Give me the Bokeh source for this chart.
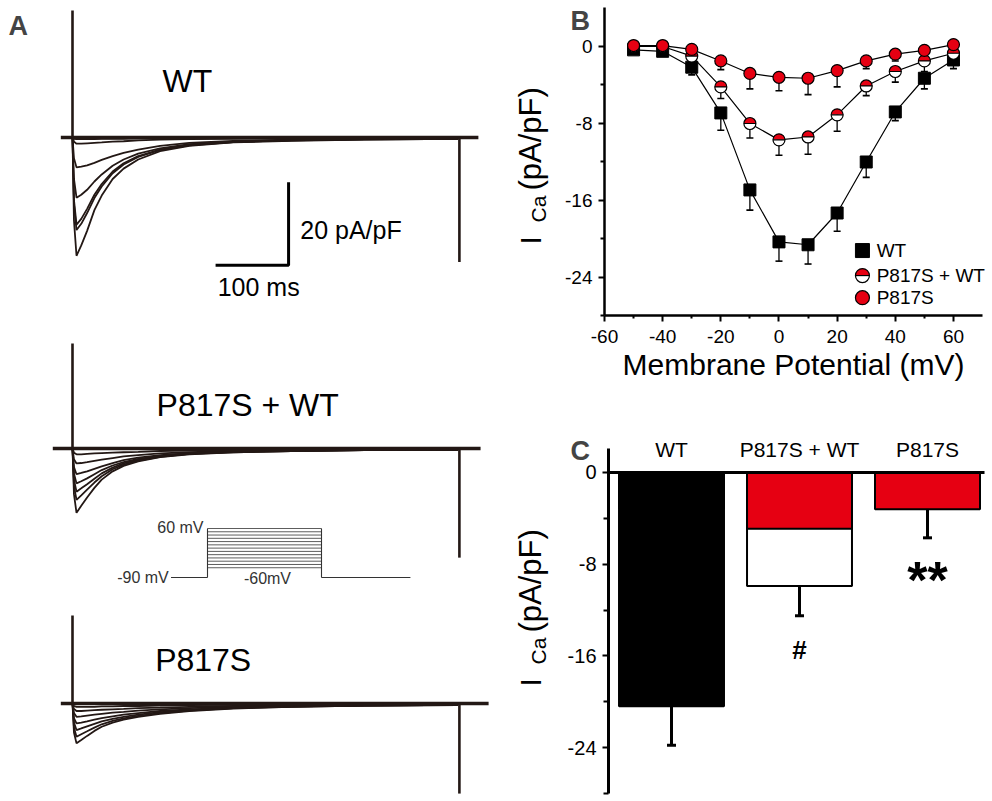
import numpy as np
from bokeh.plotting import figure
from bokeh.models import Range1d, FixedTicker, Label
from bokeh.layouts import row, column
from bokeh.embed import file_html
from bokeh.resources import INLINE
from bokeh.core.properties import value

FONT = "Liberation Sans"
RED = "#e60012"
INK = "#231815"

# ---------------- Panel A: representative current traces (pA/pF vs ms) -------------
trace_t = [0, 2, 5.5, 12, 20, 30, 40, 55, 70, 90, 120, 160, 220, 300, 400, 528]
wt_traces = [
    [0, -20.0, -28.5, -26.0, -22.5, -17.5, -14.0, -10.0, -7.5, -5.3, -3.3, -2.0, -1.2, -0.8, -0.5, -0.3],
    [0, -16.0, -22.3, -20.8, -18.2, -14.6, -11.8, -8.6, -6.5, -4.7, -3.0, -1.9, -1.1, -0.7, -0.5, -0.3],
    [0, -15.0, -21.0, -19.6, -17.2, -13.8, -11.2, -8.2, -6.2, -4.5, -2.9, -1.8, -1.1, -0.7, -0.4, -0.3],
    [0, -10.0, -14.5, -13.8, -12.6, -10.6, -8.9, -6.8, -5.3, -3.9, -2.6, -1.6, -1.0, -0.6, -0.4, -0.3],
    [0, -5.0, -7.2, -7.0, -6.7, -6.1, -5.4, -4.5, -3.7, -2.9, -2.0, -1.3, -0.8, -0.5, -0.3, -0.2],
    [0, -1.0, -1.5, -1.5, -1.4, -1.3, -1.2, -1.0, -0.9, -0.7, -0.5, -0.4, -0.3, -0.2, -0.2, -0.1],
    [0, -0.3, -0.4, -0.4, -0.4, -0.4, -0.3, -0.3, -0.3, -0.2, -0.2, -0.2, -0.1, -0.1, -0.1, -0.1],
]
het_traces = [
    [0, -11.0, -15.5, -13.8, -11.8, -9.5, -7.5, -5.5, -4.2, -3.1, -2.1, -1.4, -0.9, -0.6, -0.4, -0.3],
    [0, -9.0, -12.4, -11.3, -9.9, -8.2, -6.7, -5.0, -3.9, -2.9, -2.0, -1.3, -0.9, -0.6, -0.4, -0.3],
    [0, -7.5, -10.4, -9.6, -8.6, -7.3, -6.0, -4.6, -3.6, -2.7, -1.9, -1.3, -0.8, -0.6, -0.4, -0.3],
    [0, -6.0, -8.4, -7.9, -7.2, -6.2, -5.2, -4.1, -3.3, -2.5, -1.8, -1.2, -0.8, -0.5, -0.4, -0.3],
    [0, -4.5, -6.2, -5.9, -5.5, -4.9, -4.3, -3.5, -2.8, -2.2, -1.6, -1.1, -0.7, -0.5, -0.3, -0.2],
    [0, -2.6, -3.6, -3.5, -3.3, -3.0, -2.7, -2.3, -1.9, -1.6, -1.2, -0.9, -0.6, -0.4, -0.3, -0.2],
    [0, -1.0, -1.4, -1.4, -1.3, -1.2, -1.1, -1.0, -0.9, -0.8, -0.6, -0.5, -0.4, -0.3, -0.2, -0.1],
]
mut_traces = [
    [0, -7.0, -9.6, -8.8, -7.8, -6.6, -5.6, -4.6, -3.9, -3.2, -2.5, -1.8, -1.2, -0.8, -0.5, -0.4],
    [0, -5.8, -8.0, -7.4, -6.7, -5.8, -5.0, -4.2, -3.6, -3.0, -2.3, -1.7, -1.1, -0.8, -0.5, -0.4],
    [0, -4.6, -6.4, -6.0, -5.5, -4.9, -4.3, -3.7, -3.2, -2.7, -2.1, -1.6, -1.1, -0.7, -0.5, -0.3],
    [0, -3.5, -4.8, -4.6, -4.3, -3.9, -3.5, -3.1, -2.7, -2.3, -1.8, -1.4, -1.0, -0.7, -0.5, -0.3],
    [0, -2.3, -3.2, -3.1, -2.9, -2.7, -2.5, -2.2, -2.0, -1.7, -1.4, -1.1, -0.8, -0.6, -0.4, -0.3],
    [0, -1.3, -1.8, -1.8, -1.7, -1.6, -1.5, -1.4, -1.3, -1.1, -1.0, -0.8, -0.6, -0.5, -0.3, -0.2],
    [0, -0.6, -0.8, -0.8, -0.8, -0.8, -0.7, -0.7, -0.6, -0.6, -0.5, -0.4, -0.3, -0.3, -0.2, -0.2],
]
trace_names = ["WT", "P817S + WT", "P817S"]
spike_up = [30.6, 25.3, 21.2]        # capacitive transient at pulse onset
spike_down = [30.0, 26.3, 21.7]      # tail transient at pulse offset
spike_t_end = 530
base_start = [-16, -27, -16]
base_end = [556, 559, 570]
scalebar_ms = 100
scalebar_pApF = 20

# voltage protocol (mV, ms)
prot_levels = [-60, -50, -40, -30, -20, -10, 0, 10, 20, 30, 40, 50, 60]
prot_hold = -90
prot_t_on, prot_t_off = 0, 500
prot_t_pre, prot_t_post = -160, 890

# ---------------- Panel B: I-V relationship -------------
V = [-50, -40, -30, -20, -10, 0, 10, 20, 30, 40, 50, 60]
wt_mean = [-0.35, -0.5, -2.15, -6.9, -14.9, -20.3, -20.6, -17.3, -12.0, -6.8, -3.3, -1.4]
wt_sem = [0.2, 0.2, 0.8, 1.8, 2.1, 2.0, 2.0, 1.9, 1.6, 0.9, 1.1, 0.9]
het_mean = [0.0, 0.0, -1.0, -4.2, -8.0, -9.7, -9.4, -7.1, -4.1, -2.6, -1.5, -0.7]
het_sem = [0.3, 0.3, 0.6, 1.2, 1.5, 1.6, 1.8, 1.7, 1.0, 1.1, 1.1, 0.7]
mut_mean = [0.1, 0.1, -0.3, -1.5, -2.8, -3.2, -3.3, -2.5, -1.5, -0.8, -0.4, 0.2]
mut_sem = [0.2, 0.2, 0.3, 0.9, 1.6, 1.4, 1.7, 1.7, 0.8, 0.7, 0.5, 0.4]
legend_labels = ["WT", "P817S + WT", "P817S"]
x_major = [-60, -40, -20, 0, 20, 40, 60]
x_minor = [-50, -30, -10, 10, 30, 50]
y_major = [0, -8, -16, -24]
y_minor = [-4, -12, -20, -28]

# ---------------- Panel C: peak current bars -------------
bar_names = ["WT", "P817S + WT", "P817S"]
bar_mean = [-20.4, -9.9, -3.2]
bar_sem = [3.4, 2.6, 2.5]
bar_fill = ["black", "white", RED]
het_red_part = -4.9
sig_marks = ["", "#", "**"]

# =================== Panel A figure ===================
pa = figure(width=500, height=800, x_range=Range1d(-98.63, 586.3), y_range=Range1d(-159.76, 33.01),
            output_backend="svg", toolbar_location=None, x_axis_location=None, y_axis_location=None,
            min_border=0, outline_line_color=None)
pa.extra_y_ranges = {"het": Range1d(-84.82, 107.95), "mut": Range1d(-23.37, 169.40),
                     "prot_v": Range1d(-771.8, 1674.7)}
pa.extra_x_ranges = {"prot_t": Range1d(-907.9, 1285.1)}
pa.grid.visible = False

range_names = ["default", "het", "mut"]
all_traces = [wt_traces, het_traces, mut_traces]
label_pos = [(157.5, 13.7), (240, 10.4), (179, 10.4)]
for rn, traces, up, down, b0, b1, nm, lp in zip(range_names, all_traces, spike_up, spike_down,
                                                base_start, base_end, trace_names, label_pos):
    pa.line([b0, b1], [0, 0], line_width=3.5, color=INK, y_range_name=rn)
    pa.multi_line(xs=[trace_t] * len(traces), ys=traces, line_width=1.8, color=INK, y_range_name=rn)
    pa.segment(x0=[trace_t[0]], y0=[up], x1=[trace_t[0]], y1=[0], line_width=2.6, color=INK, y_range_name=rn)
    pa.segment(x0=[spike_t_end], y0=[0], x1=[spike_t_end], y1=[-down], line_width=2.6, color=INK, y_range_name=rn)
    pa.text(x=[lp[0]], y=[lp[1]], text=[nm], text_font=value(FONT), text_font_size="32px",
            text_align="center", text_baseline="middle", text_color="black", y_range_name=rn)

# scale bar
sb_t0, sb_i0 = 196, -30.8
pa.line([sb_t0, sb_t0 + scalebar_ms, sb_t0 + scalebar_ms], [sb_i0, sb_i0, sb_i0 + scalebar_pApF],
        line_width=3, color="black")
pa.text(x=[sb_t0 + scalebar_ms + 16], y=[sb_i0 + scalebar_pApF / 2 - 1.4], text=[f"{scalebar_pApF} pA/pF"],
        text_font=value(FONT), text_font_size="25px", text_align="left", text_baseline="middle")
pa.text(x=[sb_t0 + scalebar_ms / 2 + 9], y=[sb_i0 - 5.3], text=[f"{scalebar_ms} ms"],
        text_font=value(FONT), text_font_size="25px", text_align="center", text_baseline="middle")

# protocol
pc_kw = dict(x_range_name="prot_t", y_range_name="prot_v", line_color="#333333", line_width=1.1)
pa.multi_line(xs=[[prot_t_pre, prot_t_on], [prot_t_off, prot_t_post]],
              ys=[[prot_hold, prot_hold], [prot_hold, prot_hold]], **pc_kw)
pa.segment(x0=[prot_t_on, prot_t_off], y0=[prot_hold] * 2, x1=[prot_t_on, prot_t_off],
           y1=[max(prot_levels)] * 2, **pc_kw)
pa.segment(x0=[prot_t_on] * len(prot_levels), y0=prot_levels, x1=[prot_t_off] * len(prot_levels), y1=prot_levels,
           x_range_name="prot_t", y_range_name="prot_v", line_color="#333333", line_width=0.8)
pa.text(x=[-17.5, prot_t_pre - 10, 263], y=[max(prot_levels) + 3, prot_hold, prot_hold - 3],
        text=[f"{max(prot_levels)} mV", f"{prot_hold} mV", f"{min(prot_levels)}mV"],
        text_align=["right", "right", "center"], text_baseline="middle", text_font=value(FONT),
        text_font_size="16px", text_color="#333333", x_range_name="prot_t", y_range_name="prot_v")

pa.add_layout(Label(x=8, y=775, x_units="screen", y_units="screen", text="A", text_font=FONT,
                    text_font_size="27px", text_font_style="bold", text_baseline="middle", text_align="left"))


def style_axis(ax, size="19px", minor_out=3):
    ax.axis_line_width = 2.5
    ax.axis_line_color = "black"
    ax.major_tick_line_width = 2
    ax.minor_tick_line_width = 2
    ax.major_tick_line_color = "black"
    ax.minor_tick_line_color = "black"
    ax.major_tick_in = 0
    ax.major_tick_out = 6
    ax.minor_tick_in = 0
    ax.minor_tick_out = minor_out
    ax.major_label_text_font = FONT
    ax.major_label_text_font_size = size
    ax.major_label_text_color = "black"


def ica_label(p, x_main, x_sub, y_i, y_ca, y_unit):
    # rotated "I_Ca (pA/pF)": each piece starts at its anchor and runs upwards
    kw = dict(x_units="screen", y_units="screen", angle=np.pi / 2, text_font=FONT,
              text_align="left", text_baseline="middle", text_color="black")
    p.add_layout(Label(x=x_main, y=y_i, text="I", text_font_size="30px", **kw))
    p.add_layout(Label(x=x_sub, y=y_ca, text="Ca", text_font_size="21px", **kw))
    p.add_layout(Label(x=x_main, y=y_unit, text="(pA/pF)", text_font_size="31px", **kw))


# =================== Panel B figure ===================
pb = figure(width=491, height=425, x_range=Range1d(-95.76, 73.08), y_range=Range1d(-39.377, 4.779),
            output_backend="svg", toolbar_location=None, min_border=0, outline_line_color=None)
pb.grid.visible = False
pb.xaxis.ticker = FixedTicker(ticks=x_major, minor_ticks=x_minor)
pb.yaxis.ticker = FixedTicker(ticks=y_major, minor_ticks=y_minor)
pb.xaxis.fixed_location = -28
pb.yaxis.fixed_location = -60
pb.xaxis.bounds = (-60, 70)
pb.yaxis.bounds = (-28, 4)
style_axis(pb.xaxis[0])
style_axis(pb.yaxis[0], minor_out=4)
pb.xaxis.major_label_overrides = {v: str(v) for v in x_major}
pb.yaxis.major_label_overrides = {v: str(v) for v in y_major}
pb.xaxis.major_label_standoff = 8
pb.yaxis.major_label_standoff = 6
pb.xaxis.axis_label = "Membrane Potential (mV)"
pb.xaxis.axis_label_text_font = FONT
pb.xaxis.axis_label_text_font_size = "30px"
pb.xaxis.axis_label_text_font_style = "normal"
pb.xaxis.axis_label_text_color = "black"
pb.xaxis.axis_label_standoff = 2

for mean in (wt_mean, het_mean, mut_mean):
    pb.line(V, mean, color="black", line_width=1.2)
for mean, sem in ((wt_mean, wt_sem), (het_mean, het_sem), (mut_mean, mut_sem)):
    lo = [m - s for m, s in zip(mean, sem)]
    pb.segment(x0=V, y0=mean, x1=V, y1=lo, color="black", line_width=1.3)
    pb.scatter(V, lo, marker="dash", size=7, line_color="black", line_width=1.6)

pb.scatter(V, wt_mean, marker="square", size=12, fill_color="black", line_color="black")
pb.wedge(V, het_mean, radius=6, radius_units="screen", start_angle=0, end_angle=np.pi,
         fill_color=RED, line_color=None)
pb.wedge(V, het_mean, radius=6, radius_units="screen", start_angle=np.pi, end_angle=2 * np.pi,
         fill_color="white", line_color=None)
pb.scatter(V, het_mean, marker="dash", size=12, line_color="black", line_width=1.2)
pb.scatter(V, het_mean, marker="circle", size=12, fill_alpha=0, line_color="black", line_width=1.2)
pb.scatter(V, mut_mean, marker="circle", size=12, fill_color=RED, line_color="black", line_width=1.2)

# legend (drawn by hand so the half-filled symbol can be shown)
leg_x, leg_tx = 28.7, 33.6
leg_y = [-21.2, -23.8, -26.1]
pb.scatter([leg_x], [leg_y[0]], marker="square", size=14, fill_color="black", line_color="black")
pb.wedge([leg_x], [leg_y[1]], radius=7, radius_units="screen", start_angle=0, end_angle=np.pi,
         fill_color=RED, line_color=None)
pb.wedge([leg_x], [leg_y[1]], radius=7, radius_units="screen", start_angle=np.pi, end_angle=2 * np.pi,
         fill_color="white", line_color=None)
pb.scatter([leg_x], [leg_y[1]], marker="dash", size=14, line_color="black", line_width=1.2)
pb.scatter([leg_x], [leg_y[1]], marker="circle", size=14, fill_alpha=0, line_color="black", line_width=1.2)
pb.scatter([leg_x], [leg_y[2]], marker="circle", size=14, fill_color=RED, line_color="black", line_width=1.2)
pb.text(x=[leg_tx] * 3, y=leg_y, text=legend_labels, text_font=value(FONT), text_font_size="19px",
        text_align="left", text_baseline="middle", text_color="black")

pb.add_layout(Label(x=70, y=405, x_units="screen", y_units="screen", text="B", text_font=FONT,
                    text_font_size="27px", text_font_style="bold", text_baseline="middle"))
ica_label(pb, 30, 38, 181, 203, 235)

# =================== Panel C figure ===================
pc = figure(width=491, height=375, x_range=Range1d(-0.336, 3.5), y_range=Range1d(-28.62, 4.101),
            output_backend="svg", toolbar_location=None, x_axis_location="above",
            min_border=0, outline_line_color=None)
pc.grid.visible = False
bx = list(range(1, len(bar_names) + 1))
pc.yaxis.ticker = FixedTicker(ticks=y_major, minor_ticks=y_minor)
pc.yaxis.fixed_location = 0.508
pc.yaxis.bounds = (-28, 2.1)
style_axis(pc.yaxis[0], size="20px", minor_out=5)
pc.yaxis.axis_line_width = 3
pc.yaxis.major_label_overrides = {v: str(v) for v in y_major}
pc.yaxis.major_label_standoff = 6

pc.xaxis.ticker = FixedTicker(ticks=bx, minor_ticks=[])
pc.xaxis.fixed_location = 0
pc.xaxis.bounds = (0.508, 3.445)
pc.xaxis.axis_line_width = 3
pc.xaxis.axis_line_color = "black"
pc.xaxis.major_tick_line_color = None
pc.xaxis.minor_tick_line_color = None
pc.xaxis.major_label_overrides = {x: n for x, n in zip(bx, bar_names)}
pc.xaxis.major_label_text_font = FONT
pc.xaxis.major_label_text_font_size = "21px"
pc.xaxis.major_label_text_color = "black"
pc.xaxis.major_label_standoff = 5

pc.vbar(x=bx, top=[0] * len(bx), bottom=bar_mean, width=0.82, fill_color=bar_fill,
        line_color="black", line_width=2)
pc.vbar(x=[bx[1]], top=[0], bottom=[het_red_part], width=0.82, fill_color=RED,
        line_color="black", line_width=2)
lo = [m - s for m, s in zip(bar_mean, bar_sem)]
pc.segment(x0=bx, y0=bar_mean, x1=bx, y1=lo, color="black", line_width=3)
pc.scatter(bx, lo, marker="dash", size=9, line_color="black", line_width=3)

pc.text(x=[bx[1]], y=[-15.5], text=[sig_marks[1]], text_font=value(FONT), text_font_size="26px",
        text_font_style="bold", text_align="center", text_baseline="middle")
pc.text(x=[bx[2]], y=[-9.4], text=[sig_marks[2]], text_font=value(FONT), text_font_size="52px",
        text_font_style="bold", text_align="center", text_baseline="middle")

pc.add_layout(Label(x=70, y=350, x_units="screen", y_units="screen", text="C", text_font=FONT,
                    text_font_size="27px", text_font_style="bold", text_baseline="middle"))
ica_label(pc, 30, 38, 114, 136, 168)

layout = row(pa, column(pb, pc))
open("out.html", "w").write(file_html(layout, INLINE, title="ICa"))
